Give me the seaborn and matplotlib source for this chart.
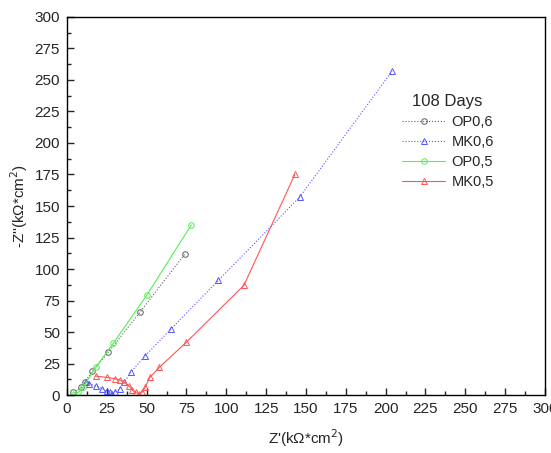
import numpy as np
import pandas as pd
import matplotlib
matplotlib.use("Agg")
import matplotlib.pyplot as plt
import seaborn as sns
from matplotlib.ticker import MultipleLocator
from matplotlib.lines import Line2D

sns.set_style("ticks")
plt.rcParams['font.family'] = ['Liberation Sans', 'DejaVu Sans']

# 数据
op06_x = [4, 9, 11, 16, 26, 46, 74]
op06_y = [2, 6, 10, 19, 34, 66, 112]

mk06_x = [12, 14, 18, 22, 25, 27, 28, 30, 33, 36, 40, 49, 65, 95, 146, 204]
mk06_y = [10, 9, 7, 5, 3, 2, 1, 2, 5, 10, 18, 31, 52, 91, 157, 257]

op05_x = [4, 7, 10, 18, 29, 50, 78]
op05_y = [0, 2, 6, 22, 41, 79, 135]

mk05_x = [18, 25, 30, 33, 36, 39, 41, 43, 45, 47, 49, 52, 58, 75, 111, 143]
mk05_y = [15, 14, 13, 12, 10, 7, 4, 2, 1, 2, 6, 14, 22, 42, 87, 175]

series = [
    ("OP0,6", op06_x, op06_y, "#606060", ":", "o"),
    ("MK0,6", mk06_x, mk06_y, "#5555ff", ":", "^"),
    ("OP0,5", op05_x, op05_y, "#55ee55", "-", "o"),
    ("MK0,5", mk05_x, mk05_y, "#ff5555", "-", "^"),
]

fig = plt.figure(figsize=(5.51, 4.53), dpi=100)
ax = fig.add_axes([0.1216, 0.128, 0.8675, 0.8345])

handles = []
for name, xs, ys, c, ls, mk in series:
    df = pd.DataFrame({"x": xs, "y": ys})
    sns.lineplot(data=df, x="x", y="y", ax=ax, sort=False, estimator=None,
                 color=c, linestyle=ls, linewidth=0.8, marker=mk,
                 markersize=4, markerfacecolor="none", markeredgecolor=c,
                 markeredgewidth=0.7, legend=False)
    handles.append(Line2D([], [], color=c, linestyle=ls, linewidth=0.8, marker=mk,
                          markersize=4, markerfacecolor="none", markeredgecolor=c,
                          markeredgewidth=0.7, label=name))

ax.set_xlim(0, 300)
ax.set_ylim(0, 300)
ax.xaxis.set_major_locator(MultipleLocator(25))
ax.yaxis.set_major_locator(MultipleLocator(25))
ax.xaxis.set_minor_locator(MultipleLocator(12.5))
ax.yaxis.set_minor_locator(MultipleLocator(12.5))
ax.tick_params(which="major", direction="in", length=5, width=1, labelsize=11, pad=5)
ax.tick_params(which="minor", direction="in", length=3, width=1)
for s in ax.spines.values():
    s.set_linewidth(1)
    s.set_color("black")

ax.set_xlabel("Z'(k\u03a9*cm$^2$)", fontsize=11, labelpad=8)
ax.set_ylabel("-Z''(k\u03a9*cm$^2$)", fontsize=11, labelpad=3)

leg = ax.legend(handles=handles, title="108 Days", loc="upper right",
                bbox_to_anchor=(0.92, 0.83), frameon=False, fontsize=10.5,
                title_fontsize=12, handlelength=3, numpoints=1,
                labelspacing=0.4, handletextpad=0.4)

fig.savefig("out.png", dpi=100)
